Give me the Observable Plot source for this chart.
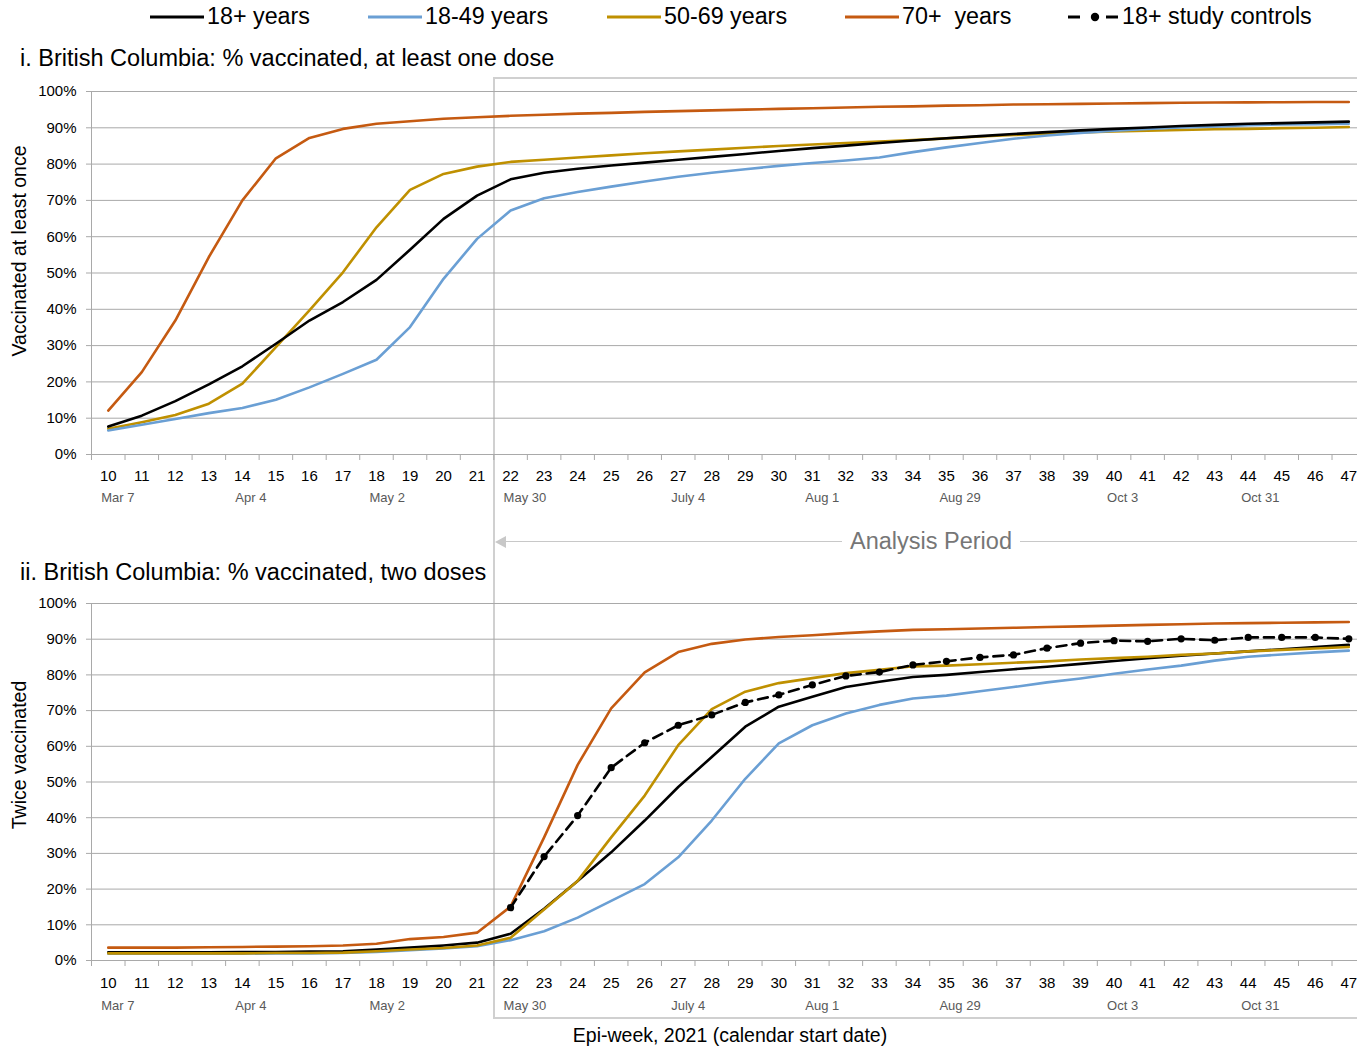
<!DOCTYPE html>
<html><head><meta charset="utf-8">
<script src="https://cdn.jsdelivr.net/npm/d3@7"></script>
<script src="https://cdn.jsdelivr.net/npm/@observablehq/plot@0.6"></script>
<style>
body{margin:0;background:#fff;font-family:"Liberation Sans",Arial,sans-serif;}
#wrap{position:relative;width:1357px;height:1048px;overflow:hidden;background:#fff;}
.abs{position:absolute;white-space:pre;color:#000;}
.plotbox{position:absolute;left:0;}
</style></head><body><div id="wrap"></div>
<script>
// ---------- data ----------
const weeks = [10,11,12,13,14,15,16,17,18,19,20,21,22,23,24,25,26,27,28,29,30,31,32,33,34,35,36,37,38,39,40,41,42,43,44,45,46,47];
const controlWeeks = [22,23,24,25,26,27,28,29,30,31,32,33,34,35,36,37,38,39,40,41,42,43,44,45,46,47];
const yTicks = [0,10,20,30,40,50,60,70,80,90,100];
const dateWeeks = [10,14,18,22,27,31,35,40,44];
const dateTexts = ["Mar 7","Apr 4","May 2","May 30","July 4","Aug 1","Aug 29","Oct 3","Oct 31"];
const seriesNames = ["18+ years","18-49 years","50-69 years","70+  years"];
const seriesColors = ["#000000","#6a9fd4","#bf9000","#c55a11"];

// i. at least one dose (%)
const one18plus = [7.7,10.7,14.7,19.3,24.3,30.5,36.9,42.0,48.1,56.4,64.9,71.3,75.8,77.6,78.7,79.6,80.4,81.2,82.0,82.8,83.6,84.4,85.1,85.8,86.5,87.1,87.7,88.3,88.8,89.3,89.7,90.1,90.5,90.8,91.1,91.3,91.5,91.7];
const one1849   = [6.6,8.2,9.8,11.4,12.8,15.1,18.5,22.2,26.1,35.1,48.4,59.4,67.2,70.6,72.3,73.8,75.2,76.5,77.6,78.6,79.5,80.3,81.0,81.8,83.3,84.6,85.8,87.0,87.9,88.6,89.2,89.7,90.1,90.4,90.7,90.9,91.0,91.1];
const one5069   = [7.1,8.9,10.9,14.0,19.5,29.6,39.7,50.2,62.6,72.9,77.3,79.3,80.6,81.2,81.8,82.4,83.0,83.5,84.0,84.5,85.0,85.4,85.8,86.2,86.6,87.1,87.6,88.0,88.4,88.7,89.0,89.2,89.4,89.6,89.7,89.9,90.0,90.2];
const one70plus = [12.1,22.7,36.9,54.4,70.0,81.6,87.2,89.7,91.1,91.8,92.5,92.9,93.3,93.6,93.9,94.1,94.4,94.6,94.8,95.0,95.2,95.4,95.6,95.8,95.9,96.1,96.2,96.4,96.5,96.6,96.7,96.8,96.9,96.95,97.0,97.05,97.1,97.1];

// ii. two doses (%)
const two18plus = [2.3,2.3,2.3,2.3,2.4,2.4,2.5,2.6,3.1,3.6,4.2,5.0,7.5,14.5,22.3,30.3,39.2,48.6,57.0,65.5,71.1,73.9,76.6,78.1,79.4,80.0,80.8,81.6,82.3,83.1,83.9,84.7,85.4,86.0,86.6,87.2,87.8,88.4];
const two1849   = [1.9,1.9,1.9,1.9,1.9,2.0,2.0,2.1,2.4,2.9,3.4,4.0,5.7,8.2,12.0,16.7,21.4,28.9,39.2,50.9,60.8,65.9,69.2,71.6,73.4,74.2,75.4,76.6,77.9,79.0,80.3,81.5,82.6,84.0,85.1,85.7,86.3,86.8];
const two5069   = [2.0,2.0,2.0,2.0,2.0,2.1,2.1,2.2,2.6,3.1,3.5,4.2,6.4,14.3,22.3,34.5,46.2,60.3,70.4,75.3,77.7,79.1,80.5,81.4,82.4,82.6,83.0,83.4,83.8,84.3,84.7,85.1,85.6,86.0,86.6,87.0,87.4,87.8];
const two70plus = [3.6,3.6,3.6,3.7,3.8,3.9,4.0,4.2,4.7,6.0,6.6,7.8,15.1,34.5,54.8,70.6,80.7,86.4,88.7,89.9,90.6,91.1,91.7,92.2,92.6,92.8,93.0,93.2,93.4,93.6,93.8,94.0,94.2,94.4,94.5,94.6,94.7,94.8];
const twoControls = [14.8,29.1,40.6,54.0,61.0,65.9,68.8,72.3,74.4,77.2,79.7,80.8,82.8,83.8,84.9,85.6,87.5,88.9,89.6,89.4,90.1,89.7,90.5,90.5,90.5,90.1];

// ---------- helpers ----------
function tidy(arrs){
  const rows=[];
  arrs.forEach((a,i)=>a.forEach((v,j)=>rows.push({series:seriesNames[i],week:weeks[j],value:v})));
  return rows;
}
const boundaries = weeks.map(w=>w-0.5);
const dateRows = dateWeeks.map((w,i)=>({week:w,label:dateTexts[i]}));
const GRID="#a9a9a9";

function panel(rows, ctrl, innerH, marginBottom, order, weekPad, dateDy){
  const marks = [
    Plot.gridY(yTicks,{stroke:GRID,strokeOpacity:1,strokeWidth:1}),
    Plot.ruleX([9.5],{stroke:GRID,strokeWidth:1}),
    Plot.axisY(yTicks,{tickFormat:d=>d+"%",tickSize:5,tickPadding:10,fontSize:15,stroke:GRID,fill:"#000",label:null}),
    Plot.axisX(boundaries,{tickSize:6,tickFormat:()=>"",stroke:GRID,label:null}),
    Plot.axisX(weeks,{tickSize:0,tickPadding:weekPad,fontSize:15,fill:"#000",label:null,tickFormat:d=>String(d)}),
    Plot.text(dateRows,{x:"week",text:"label",frameAnchor:"bottom",dy:dateDy,dx:-7,textAnchor:"start",fontSize:13,fill:"#595959"})
  ];
  order.forEach(name=>{
    marks.push(Plot.line(rows.filter(r=>r.series===name),{x:"week",y:"value",stroke:"series",strokeWidth:2.6}));
  });
  if(ctrl){
    marks.push(Plot.line(ctrl,{x:"week",y:"value",stroke:"#000",strokeWidth:2.6,strokeDasharray:"10,6"}));
    marks.push(Plot.dot(ctrl,{x:"week",y:"value",r:3.6,fill:"#000"}));
  }
  return Plot.plot({
    width:1357, height:10+innerH+marginBottom,
    marginLeft:91, marginRight:0, marginTop:10, marginBottom:marginBottom,
    style:{background:"transparent",overflow:"visible",fontFamily:"Liberation Sans, Arial, sans-serif"},
    x:{type:"linear",domain:[9.5,47.26],axis:null},
    y:{domain:[0,100],axis:null},
    color:{domain:seriesNames,range:seriesColors},
    marks
  });
}

const wrap=document.getElementById("wrap");
function addText(txt,left,top,size,extra){
  const d=document.createElement("div");
  d.className="abs";d.textContent=txt;
  d.style.left=left+"px";d.style.top=top+"px";d.style.fontSize=size+"px";d.style.lineHeight=size+"px";
  if(extra) Object.assign(d.style,extra);
  wrap.appendChild(d);return d;
}

// analysis-period box
const box=document.createElement("div");
Object.assign(box.style,{position:"absolute",left:"493px",top:"77px",width:"900px",height:"942px",
  borderLeft:"2px solid #d0d0d0",borderTop:"2px solid #d0d0d0",borderBottom:"2px solid #d0d0d0",boxSizing:"border-box"});
wrap.appendChild(box);

// panels
const p1=panel(tidy([one18plus,one1849,one5069,one70plus]),null,363,60,["50-69 years","18-49 years","18+ years","70+  years"],16,47);
p1.classList.add("plotbox");p1.style.position="absolute";p1.style.top="81px";
wrap.appendChild(p1);

const ctrlRows=controlWeeks.map((w,i)=>({week:w,value:twoControls[i]}));
const p2=panel(tidy([two18plus,two1849,two5069,two70plus]),ctrlRows,357,56,["18-49 years","18+ years","50-69 years","70+  years"],17,49);
p2.classList.add("plotbox");p2.style.position="absolute";p2.style.top="593px";
wrap.appendChild(p2);

// titles
addText("i. British Columbia: % vaccinated, at least one dose",20,47,23.5);
addText("ii. British Columbia: % vaccinated, two doses",20,561,23.5);
// y labels
addText("Vaccinated at least once",20,251,19.5,{transform:"translate(-50%,-50%) rotate(-90deg)"});
addText("Twice vaccinated",20,755,19.5,{transform:"translate(-50%,-50%) rotate(-90deg)"});
// x label
addText("Epi-week, 2021 (calendar start date)",730,1026,19.5,{transform:"translateX(-50%)"});

// analysis period arrow
const ap=document.createElement("div");
Object.assign(ap.style,{position:"absolute",left:"500px",top:"541px",width:"860px",height:"0",borderTop:"1.5px solid #c8c8c8"});
wrap.appendChild(ap);
const ah=document.createElement("div");
Object.assign(ah.style,{position:"absolute",left:"495px",top:"536px",width:"0",height:"0",
  borderTop:"6px solid transparent",borderBottom:"6px solid transparent",borderRight:"11px solid #c8c8c8"});
wrap.appendChild(ah);
addText("Analysis Period",931,530,23.5,{transform:"translateX(-50%)",background:"#fff",padding:"0 8px",color:"#767676"});

// legend
const legendItems=[
  {name:"18+ years",color:seriesColors[0],x:150},
  {name:"18-49 years",color:seriesColors[1],x:368},
  {name:"50-69 years",color:seriesColors[2],x:607},
  {name:"70+  years",color:seriesColors[3],x:845},
  {name:"18+ study controls",color:"#000",x:1068,dashed:true}
];
legendItems.forEach(it=>{
  const ns="http://www.w3.org/2000/svg";
  const s=document.createElementNS(ns,"svg");
  s.setAttribute("width","56");s.setAttribute("height","12");
  Object.assign(s.style,{position:"absolute",left:it.x+"px",top:"11px"});
  if(it.dashed){
    [[0,12],[38,50]].forEach(([a,b])=>{
      const l=document.createElementNS(ns,"line");
      l.setAttribute("x1",a);l.setAttribute("x2",b);l.setAttribute("y1",6);l.setAttribute("y2",6);
      l.setAttribute("stroke","#000");l.setAttribute("stroke-width","3");s.appendChild(l);
    });
    const c=document.createElementNS(ns,"circle");
    c.setAttribute("cx",27);c.setAttribute("cy",6);c.setAttribute("r",4.2);c.setAttribute("fill","#000");s.appendChild(c);
  } else {
    const l=document.createElementNS(ns,"line");
    l.setAttribute("x1",0);l.setAttribute("x2",54);l.setAttribute("y1",6);l.setAttribute("y2",6);
    l.setAttribute("stroke",it.color);l.setAttribute("stroke-width","3");s.appendChild(l);
  }
  wrap.appendChild(s);
  addText(it.name,it.x+(it.dashed?54:57),5,23.3);
});
</script></body></html>
